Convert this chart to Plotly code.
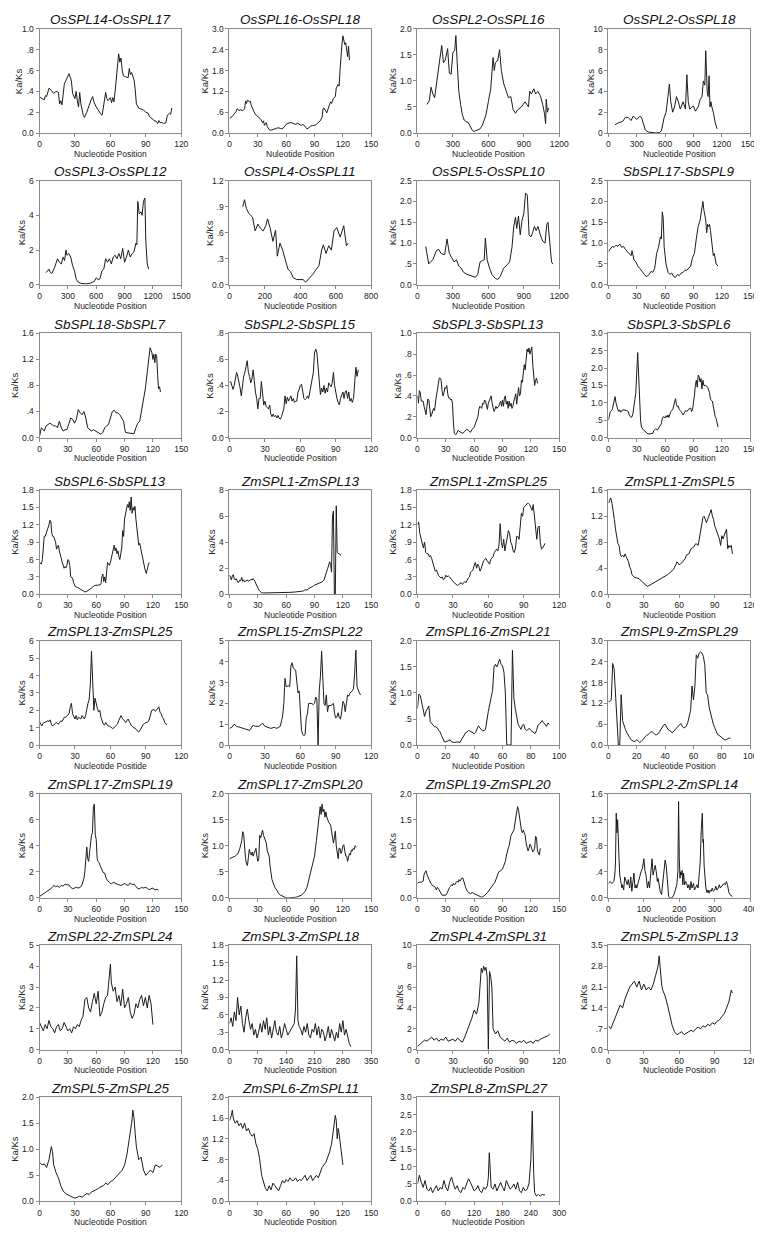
import plotly.graph_objects as go

# ---------------- data ----------------
x01 = [0,2,4,5,6,8,10,12,14,16,17,18,19,20,21,23,25,27,28,30,31,32,33,34,35,37,38,40,42,44,45,46,48,50,52,53,55,56,57,58,60,61,62,63,64,66,67,68,69,70,71,73,75,76,77,78,79,80,81,82,84,86,88,90,92,93,95,97,99,100,101,102,104,105,107,108,109,110,111,112]
y01 = [.35,.33,.32,.36,.35,.43,.41,.38,.40,.39,.28,.31,.27,.38,.47,.52,.57,.50,.38,.33,.40,.31,.25,.39,.28,.17,.15,.20,.27,.33,.35,.30,.25,.21,.18,.17,.30,.39,.33,.31,.34,.29,.34,.30,.40,.66,.76,.68,.72,.60,.55,.54,.53,.62,.56,.58,.54,.51,.42,.28,.24,.23,.22,.20,.19,.16,.14,.12,.11,.09,.12,.10,.10,.09,.10,.16,.18,.19,.18,.24]
xt01 = [0,30,60,90,120]
yt01 = [0,.2,.4,.6,.8,1.0]

x02 = [0,3,5,7,8,10,12,14,16,17,18,19,21,22,23,25,27,29,31,33,35,36,37,39,40,42,44,46,48,50,52,54,56,58,60,62,64,66,68,70,72,74,76,78,80,82,84,86,88,90,92,94,96,98,99,100,102,103,105,107,108,110,112,113,115,116,117,118,119,120,121,122,123,124,125,126,127]
y02 = [.42,.48,.55,.62,.70,.65,.67,.64,.70,.92,.85,.95,.90,.92,.80,.66,.55,.50,.45,.40,.30,.35,.22,.30,.18,.10,.08,.09,.12,.14,.15,.13,.12,.18,.25,.28,.30,.29,.27,.25,.28,.25,.22,.25,.17,.12,.15,.20,.22,.22,.25,.30,.35,.45,.70,.72,.60,.58,.75,.90,.85,1.00,1.05,1.30,1.40,1.35,1.80,2.30,2.55,2.80,2.70,2.55,2.60,2.45,2.20,2.50,2.10]
xt02 = [0,30,60,90,120,150]
yt02 = [0,.6,1.2,1.8,2.4,3.0]

x03 = [80,100,115,130,145,165,190,205,220,235,255,270,285,300,315,325,335,350,365,380,395,410,430,450,465,480,500,530,550,580,600,620,640,650,660,680,695,710,730,750,770,790,810,830,850,880,910,925,940,950,965,985,1000,1020,1040,1060,1075,1085,1090,1100,1110]
y03 = [.55,.62,.88,.75,.68,1.05,1.45,1.68,1.35,1.40,1.62,1.15,1.13,1.55,1.58,1.87,1.40,.80,.55,.35,.25,.22,.20,.12,.05,.03,.05,.08,.15,.35,.60,.85,1.45,1.20,1.35,1.40,1.60,1.20,.95,.82,.68,.70,.45,.38,.45,.50,.60,.55,.50,.80,.75,.85,.75,.80,.72,.55,.38,.18,.65,.40,.48]
xt03 = [0,300,600,900,1200]
yt03 = [0,.5,1.0,1.5,2.0]

x04 = [70,110,150,180,210,240,260,280,300,330,350,370,390,420,460,500,540,560,590,610,630,645,660,680,700,720,740,760,790,805,815,830,845,860,880,900,920,950,970,990,1005,1020,1030,1045,1055,1065,1075,1085,1095,1110,1130,1150]
y04 = [.8,1.0,1.1,1.5,1.5,1.2,1.6,1.5,1.3,1.6,1.5,1.0,.3,.1,.05,0,.05,.2,1.5,2.0,3.5,4.7,3.0,2.0,2.5,3.5,3.0,2.3,3.0,2.5,2.3,5.6,3.0,2.3,2.5,2.6,2.1,2.5,3.2,3.5,5.0,4.6,7.9,4.0,3.5,5.5,2.5,3.0,2.5,2.0,1.0,.4]
xt04 = [0,300,600,900,1200,1500]
yt04 = [0,2,4,6,8,10]

x05 = [70,100,115,130,160,190,210,230,250,265,280,290,310,330,350,370,390,410,440,470,500,540,580,600,620,640,660,680,700,720,740,760,780,800,820,840,860,880,900,920,940,960,980,1000,1020,1030,1040,1055,1075,1085,1100,1115,1125,1140,1155]
y05 = [.7,.9,.7,.65,1.0,1.5,1.3,1.2,1.6,1.4,2.0,1.7,1.8,1.6,1.1,.8,.3,.15,.08,.05,.05,.1,.2,.4,.3,.35,.8,.9,1.5,1.3,1.5,1.2,1.6,1.7,1.5,1.8,1.5,2.1,1.3,1.6,2.0,1.6,1.8,1.9,2.4,2.3,4.8,4.1,4.2,4.0,4.8,5.0,2.5,1.2,.9]
xt05 = [0,300,600,900,1200,1500]
yt05 = [0,2,4,6]

x06 = [75,85,95,110,130,145,160,175,190,205,215,230,245,260,270,285,300,315,330,345,360,380,400,415,430,450,470,490,505,520,530,545,560,575,590,605,625,645,660,670]
y06 = [.90,.98,.88,.82,.78,.62,.70,.65,.62,.68,.76,.65,.50,.63,.33,.48,.40,.28,.18,.15,.08,.06,.06,.06,.03,.07,.12,.18,.22,.40,.46,.36,.45,.40,.62,.66,.55,.68,.45,.48]
xt06 = [0,200,400,600,800]
yt06 = [0,.3,.6,.9,1.2]

x07 = [70,95,110,130,160,180,200,230,250,270,290,310,330,350,370,390,420,460,490,510,530,550,565,575,590,610,630,660,680,700,730,760,780,800,815,830,840,855,870,885,900,915,930,945,960,975,990,1005,1020,1040,1060,1080,1095,1105,1120,1135,1145]
y07 = [.92,.50,.55,.60,.82,.85,.75,.72,1.10,.75,.65,.55,.60,.45,.40,.30,.25,.20,.18,.25,.55,.58,.60,1.12,.60,.40,.25,.15,.13,.20,.40,.48,.55,.90,1.40,1.62,1.35,1.65,1.20,1.55,1.70,2.20,2.15,1.20,1.15,1.25,1.40,1.30,1.40,1.20,1.05,1.00,1.45,1.50,1.10,.55,.50]
xt07 = [0,300,600,900,1200]
yt07 = [0,.5,1.0,1.5,2.0,2.5]

x08 = [0,2,4,6,8,10,12,14,16,18,20,22,24,25,27,29,31,33,35,37,39,41,43,45,47,49,51,53,55,56,57,58,59,61,63,65,67,69,71,73,75,77,79,81,83,85,87,89,91,93,95,97,99,100,101,103,104,105,106,107,108,109,110,111,112,113,114,116]
y08 = [.80,.85,.92,.90,.95,.92,.98,.90,.92,.85,.80,.75,.70,.82,.60,.55,.45,.40,.35,.28,.22,.20,.25,.32,.30,.40,.75,.90,1.15,1.10,1.75,1.60,.90,.50,.30,.25,.28,.20,.18,.25,.22,.28,.30,.35,.35,.40,.45,.65,.75,1.10,1.40,1.55,1.80,2.00,1.80,1.55,1.25,1.45,1.40,1.45,1.30,1.05,.85,.70,.75,.55,.50,.45]
xt08 = [0,30,60,90,120,150]
yt08 = [0,.5,1.0,1.5,2.0,2.5]

x09 = [0,1,2,4,5,7,9,11,13,15,17,19,21,23,25,27,29,31,33,35,37,39,41,43,45,47,49,51,53,55,57,59,61,63,65,67,69,71,73,75,77,79,81,83,85,87,89,90,91,94,97,100,102,104,106,108,110,112,114,116,117,119,120,121,122,123,124,125,126,127,128]
y09 = [.02,.10,.15,.12,.10,.18,.20,.22,.20,.18,.18,.15,.25,.15,.10,.12,.12,.20,.30,.28,.22,.28,.43,.38,.35,.40,.30,.15,.12,.10,.12,.10,.08,.06,.05,.08,.15,.18,.20,.30,.40,.42,.38,.38,.35,.30,.25,.15,.08,.07,.06,.06,.15,.22,.25,.40,.55,.75,1.00,1.25,1.38,1.30,1.20,1.28,1.15,1.28,1.25,.95,.75,.78,.70]
xt09 = [0,30,60,90,120,150]
yt09 = [0,.4,.8,1.2,1.6]

x10 = list(range(0, 110))
y10 = [.42,.43,.40,.37,.40,.45,.50,.47,.43,.38,.32,.40,.47,.50,.56,.59,.50,.47,.42,.45,.52,.42,.35,.30,.22,.30,.30,.43,.30,.25,.28,.24,.23,.22,.25,.18,.16,.18,.16,.17,.15,.17,.15,.14,.16,.20,.22,.32,.26,.31,.28,.30,.32,.28,.30,.27,.28,.28,.35,.37,.40,.41,.35,.30,.29,.30,.32,.30,.35,.40,.45,.50,.65,.68,.65,.55,.45,.33,.38,.35,.40,.34,.38,.35,.42,.40,.39,.42,.50,.40,.33,.30,.27,.25,.30,.33,.35,.30,.35,.36,.30,.35,.28,.30,.27,.30,.40,.54,.47,.52]
xt10 = [0,30,60,90,120]
yt10 = [0,.2,.4,.6,.8]

x11 = [0,1,2,3,4,6,7,8,9,10,11,12,13,14,15,16,17,18,19,20,21,22,23,24,25,26,27,28,29,30,31,32,33,34,35,36,37,38,39,40,41,42,43,44,46,48,50,52,54,56,58,60,62,64,65,66,68,69,70,71,72,73,74,75,76,77,78,79,80,81,82,83,84,86,88,89,90,91,92,93,94,95,96,97,98,99,100,101,102,103,104,105,106,107,108,109,110,111,112,113,114,115,116,117,118,119,120,121,122,123,124,125,126,127]
y11 = [.40,.33,.45,.43,.35,.35,.30,.25,.22,.30,.37,.36,.25,.20,.22,.26,.28,.26,.35,.40,.45,.52,.57,.57,.55,.45,.40,.43,.48,.47,.50,.42,.38,.38,.36,.37,.33,.15,.04,.03,.03,.05,.07,.06,.05,.04,.06,.08,.07,.05,.08,.10,.15,.20,.27,.30,.28,.33,.32,.36,.35,.30,.27,.33,.35,.38,.40,.33,.28,.25,.27,.30,.28,.30,.35,.30,.36,.30,.38,.40,.32,.35,.28,.35,.30,.33,.28,.30,.35,.38,.42,.32,.45,.48,.40,.42,.55,.53,.62,.70,.65,.78,.85,.82,.86,.80,.83,.87,.70,.55,.50,.55,.57,.52]
xt11 = [0,30,60,90,120,150]
yt11 = [0,.2,.4,.6,.8,1.0]

x12 = [0,1,2,4,5,6,7,8,9,10,11,12,13,14,15,17,19,21,22,24,25,26,27,28,29,30,31,32,33,34,35,37,39,41,43,45,47,48,50,52,54,56,57,58,60,61,62,63,64,65,66,68,69,70,71,72,73,74,75,77,79,80,82,83,85,87,88,89,90,91,92,93,94,95,96,97,98,99,100,101,103,105,107,108,110,111,112,113,114,115,116]
y12 = [.50,.60,.75,.80,.95,1.10,1.18,1.00,.85,.80,.75,.80,.73,.75,.80,.80,.78,.75,.65,.58,.60,.70,.85,1.10,1.30,2.00,2.45,1.80,1.00,.50,.30,.22,.18,.12,.10,.10,.12,.20,.25,.22,.30,.40,.55,.60,.57,.63,.58,.65,.58,.65,.75,.80,.90,1.00,1.12,.95,.88,.90,.80,.75,.65,.70,.78,.75,.82,.85,.75,.80,.95,1.20,1.50,1.65,1.45,1.80,1.75,1.60,1.70,1.40,1.65,1.50,1.50,1.45,1.30,1.10,1.05,.85,.70,.60,.55,.40,.30]
xt12 = [0,30,60,90,120,150]
yt12 = [0,.5,1.0,1.5,2.0,2.5,3.0]

x13 = [0,2,3,4,5,6,7,8,9,10,11,12,13,14,15,16,17,18,19,20,21,22,23,24,25,26,27,28,29,30,31,32,33,34,35,36,37,38,40,42,44,46,48,50,52,54,56,58,60,62,64,65,66,67,68,69,70,71,72,73,74,75,76,77,78,79,80,81,82,83,84,85,86,87,88,89,90,91,92,93,94,95,96,97,98,99,100,101,102,103,104,105,106,107,108,109,110,111,112,113,114,115,116]
y13 = [.55,.52,.60,.80,1.00,1.00,1.05,1.08,1.15,1.20,1.28,1.25,1.05,1.00,1.00,.95,.90,.78,.82,.85,.75,.70,.62,.55,.48,.45,.48,.46,.50,.60,.58,.50,.30,.28,.28,.20,.15,.13,.12,.10,.08,.05,.04,.05,.07,.10,.12,.15,.16,.16,.16,.18,.30,.35,.22,.30,.20,.40,.55,.52,.50,.55,.62,.70,.80,.85,.75,.80,.70,.75,.65,.60,.70,.80,1.10,1.00,1.30,1.40,1.50,1.55,1.50,1.60,1.45,1.68,1.40,1.50,1.45,1.52,1.30,1.10,.95,.85,.88,.80,.70,.60,.50,.45,.40,.36,.45,.50,.55]
xt13 = [0,30,60,90,120,150]
yt13 = [0,.3,.6,.9,1.2,1.5,1.8]

x14 = [0,1,2,3,4,5,6,7,8,9,10,11,12,13,14,15,16,17,18,19,20,21,22,23,24,25,26,27,28,29,30,31,32,33,34,36,40,45,50,55,60,65,70,75,78,80,82,84,86,88,90,92,94,96,98,100,102,104,106,107,108,109,110,111,112,113,114,116,118]
y14 = [1.5,1.2,1.1,1.4,1.5,1.2,1.1,1.2,1.0,.9,.95,1.1,1.05,1.3,1.0,1.1,.95,1.0,1.0,1.1,1.0,1.05,1.1,1.15,1.1,1.2,1.1,1.0,.8,.6,.45,.35,.25,.18,.12,.1,.1,.1,.12,.15,.12,.15,.18,.2,.25,.35,.32,.45,.5,.6,.7,.75,.8,.85,.95,1.1,1.5,2.0,2.5,2.3,1.7,6.0,6.4,0.0,0.0,6.8,3.2,3.1,3.0]
xt14 = [0,30,60,90,120,150]
yt14 = [0,2,4,6,8]

x15 = list(range(0, 109))
y15 = [1.20,1.25,1.05,.95,.85,.80,.90,.72,.70,.70,.65,.67,.62,.55,.45,.40,.42,.35,.32,.30,.28,.30,.25,.27,.33,.30,.32,.30,.28,.25,.22,.20,.18,.16,.15,.17,.18,.20,.17,.20,.22,.20,.25,.28,.30,.38,.40,.42,.50,.55,.45,.52,.48,.40,.45,.52,.58,.60,.62,.58,.55,.52,.60,.62,.65,.72,.75,.78,.75,.85,1.22,.90,.80,.95,.75,.85,.95,1.10,1.05,.90,.85,.75,.72,.80,1.00,1.00,.95,1.15,1.40,1.35,1.50,1.52,1.55,1.57,1.57,1.55,1.50,1.45,1.55,1.35,1.25,.95,1.15,1.18,.90,.78,.80,.85,.88]
xt15 = [0,30,60,90,120]
yt15 = [0,.3,.6,.9,1.2,1.5,1.8]

x16 = [0,1,2,3,4,5,6,7,8,9,10,11,12,13,14,15,16,17,18,19,20,22,24,26,28,30,33,36,38,40,42,45,48,50,52,55,57,58,59,60,61,63,65,66,68,70,72,74,76,77,78,79,80,81,82,83,84,85,86,87,88,89,90,91,92,93,94,95,96,97,98,99,100,101,102,103,104,105]
y16 = [1.40,1.45,1.48,1.40,1.30,1.15,1.00,.85,.78,.75,.62,.58,.60,.57,.62,.58,.55,.50,.42,.38,.30,.26,.25,.24,.20,.17,.12,.15,.17,.20,.22,.25,.28,.30,.33,.38,.45,.50,.48,.45,.47,.50,.55,.60,.62,.70,.72,.78,.75,.85,1.00,1.10,1.18,1.20,1.15,1.10,1.15,1.20,1.25,1.30,1.20,1.15,1.05,1.00,.95,.90,.85,.75,.90,.85,.90,.95,1.00,.70,.75,.72,.75,.62]
xt16 = [0,30,60,90,120]
yt16 = [0,.4,.8,1.2,1.6]

x17 = list(range(0, 94)) + [95,97,98,99,101,102,103,104,105,106,107,108]
y17 = [1.35,1.2,1.1,1.25,1.3,1.3,1.35,1.4,1.35,1.45,1.2,1.1,1.15,1.2,1.3,1.25,1.2,1.3,1.4,1.35,1.5,1.6,1.6,1.65,1.7,1.8,2.2,2.4,1.8,1.6,1.5,1.7,1.45,1.6,1.55,1.5,1.7,1.6,1.5,1.7,2.2,2.4,2.6,3.5,5.4,3.0,2.0,2.7,2.3,2.1,1.9,2.0,1.6,1.4,1.2,1.15,1.3,1.2,1.1,1.1,1.05,1.0,.95,1.0,1.05,1.1,1.2,1.4,1.6,1.7,1.55,1.45,1.35,1.3,1.4,1.5,1.35,1.2,1.1,1.05,1.0,1.0,.9,.8,.75,.85,1.0,1.1,1.2,1.25,1.3,1.35,1.35,1.5,2.0,2.05,1.95,2.0,2.2,1.9,1.8,1.6,1.5,1.3,1.2,1.2]
xt17 = [0,30,60,90,120]
yt17 = [0,1,2,3,4,5,6]

x18 = [0,2,4,6,9,12,15,17,20,22,25,28,30,33,35,38,40,43,45,46,47,48,50,51,52,53,54,56,57,58,59,60,61,62,63,64,65,66,67,69,71,72,73,74,75,76,77,78,79,80,81,82,83,84,86,88,89,90,91,92,93,94,95,96,97,98,99,100,101,102,104,105,106,107,108,109,110,111]
y18 = [.8,.85,1.0,.9,.85,.8,.75,.7,.95,.9,.9,1.05,.9,.85,.8,.85,.8,.9,1.4,2.0,3.2,2.8,2.85,2.8,3.8,3.95,3.7,3.6,3.0,2.5,2.6,1.8,.7,.5,.45,.5,1.3,1.5,2.0,2.0,1.95,2.0,2.3,2.2,0.0,2.6,3.3,4.5,3.0,2.0,1.9,2.4,1.6,1.9,1.9,2.0,1.5,1.3,1.35,1.55,1.3,1.25,1.6,2.1,2.0,1.6,2.0,2.4,2.35,2.5,2.6,2.7,3.5,4.55,2.8,2.6,2.5,2.4]
xt18 = [0,30,60,90,120]
yt18 = [0,1,2,3,4,5]

x19 = [0,1,2,3,4,5,6,7,8,9,10,11,12,13,14,15,16,17,18,19,20,21,22,23,24,26,28,30,31,32,33,34,35,36,37,38,39,40,41,42,43,44,45,46,47,48,50,51,52,53,54,55,56,57,58,59,60,61,62,63,66,67,68,69,70,71,72,73,74,75,76,77,78,79,80,81,82,83,84,85,86,87,88,89,90,91,92,93]
y19 = [.70,.98,.95,.80,.65,.55,.65,.70,.75,.45,.42,.38,.35,.35,.33,.28,.25,.18,.10,.06,.06,.07,.08,.10,.06,.05,.06,.05,.10,.15,.22,.24,.25,.28,.27,.25,.23,.22,.24,.30,.37,.33,.30,.27,.28,.30,.65,.80,.95,1.05,1.50,1.55,1.50,1.60,1.65,1.55,1.52,1.40,1.00,0.0,0.0,1.82,.90,.70,.50,.40,.35,.30,.38,.40,.30,.28,.30,.32,.28,.26,.25,.22,.28,.38,.40,.45,.47,.43,.38,.36,.42,.40]
xt19 = [0,20,40,60,80,100]
yt19 = [0,.5,1.0,1.5,2.0]

x20 = list(range(0, 87))
y20 = [1.25,1.25,1.30,2.35,2.20,1.40,.80,0.0,0.0,1.45,.70,.55,.45,.35,.30,.22,.15,.12,.10,.12,.15,.12,.08,.10,.15,.20,.25,.28,.30,.35,.38,.38,.35,.30,.30,.32,.38,.45,.55,.58,.60,.52,.45,.42,.40,.35,.40,.45,.50,.55,.58,.62,.55,.50,.50,.55,.65,.80,1.00,1.70,1.30,1.70,2.60,2.50,2.65,2.68,2.65,2.55,2.30,1.50,1.45,1.10,.90,.75,.60,.50,.40,.30,.28,.25,.20,.18,.15,.15,.18,.20,.20]
xt20 = [0,20,40,60,80,100]
yt20 = [0,.6,1.2,1.8,2.4,3.0]

x21 = [0,2,4,6,8,10,12,14,15,17,19,21,23,25,27,29,31,33,35,37,39,41,43,45,47] + list(range(48, 73)) + list(range(74, 127, 2))
y21 = [.1,.2,.3,.35,.5,.6,.7,.85,.95,.85,.9,.8,.95,.9,1.05,1.0,1.0,.8,.7,.75,.8,.75,.8,1.0,1.5,2.0,3.0,3.9,3.0,2.8,3.5,4.5,4.8,5.0,7.0,7.2,4.8,4.5,3.0,2.8,2.7,2.5,2.3,2.2,2.0,1.9,1.9,1.6,1.4,1.3,1.2,1.05,1.2,1.1,1.05,1.0,.95,1.0,1.1,1.0,.95,1.15,1.0,1.05,.9,.7,.7,.8,.75,.8,.75,.6,.7,.75,.6,.65,.6]
xt21 = [0,30,60,90,120,150]
yt21 = [0,2,4,6,8]

x22 = [0,3,6,9,11,13,14,15,16,17] + list(range(18, 47)) + [48,50,52,54,56,58,60,64,68,70,72,74,76,78,80,82,84,86,88,90,92,94,95,96,97,98,99,100,101,102,103,105,107] + list(range(108, 135))
y22 = [.75,.78,.80,.85,.95,1.10,1.27,1.22,.90,.75,.65,.62,.78,.93,.85,.82,.88,.80,.85,.90,.95,.80,.70,.75,1.20,1.15,1.25,1.30,1.20,1.15,1.10,1.05,.90,.85,.80,.60,.45,.35,.30,.20,.15,.08,.05,.03,.01,0,0,0,.01,.02,.03,.05,.08,.12,.20,.35,.50,.65,.80,1.10,1.45,1.70,1.75,1.60,1.80,1.65,1.70,1.55,1.65,1.55,1.45,1.40,1.30,1.20,1.05,1.15,1.28,1.00,.90,.75,.95,.95,.85,.90,1.00,1.02,.90,.80,.80,.70,.78,.85,.82,.92,.90,.95,.93,1.00,.97]
xt22 = [0,30,60,90,120,150]
yt22 = [0,.5,1.0,1.5,2.0]

x23 = [0,2,4,6,7,8,9,10,11,12,13,14,15,17,19,20,21,22,23,24,25,26,28,30] + list(range(31, 55)) + list(range(56, 85, 2)) + [85,86,88] + list(range(90, 100)) + list(range(102, 131))
y23 = [.28,.30,.30,.32,.45,.50,.52,.45,.40,.35,.30,.28,.25,.22,.20,.15,.20,.18,.15,.10,.08,.05,.05,.05,.08,.12,.18,.20,.22,.25,.23,.28,.25,.26,.30,.32,.30,.35,.32,.35,.38,.38,.30,.28,.20,.15,.12,.10,.08,.10,.08,.06,.05,.02,.01,.03,.06,.10,.15,.20,.25,.30,.40,.48,.50,.52,.55,.60,.65,.70,.80,.90,.95,1.00,1.10,1.20,1.30,1.45,1.55,1.65,1.75,1.68,1.55,1.40,1.30,1.25,1.30,1.25,1.20,1.05,.95,.90,.95,1.03,1.00,.90,.88,.90,.95,1.18,1.15,.90,.85,.82,.95]
xt23 = [0,30,60,90,120,150]
yt23 = [0,.5,1.0,1.5,2.0]

x24 = [0,5,10,15,18,20,22,24,26,28,30,32,35,38,40,43,46,50,53,56,60,63,66,70,72,75,78,80,84,88,92,96,100,103,106,110,113,116,120,123,126,129,132,135,138,140,143,146,150,153,156,160,163,166,168,170,173,176,180,185,190,193,196,198,200,202,204,206,208,210,212,215,218,221,224,227,230,233,236,240,243,246,250,253,256,259,262,265,267,268,270,272,275,278,281,284,287,290,293,296,300,303,306,310,313,316,320,323,326,330,333,336,338,340,343,346,350]
y24 = [.22,.25,.22,.25,.35,.55,1.30,1.00,1.20,1.00,.60,.35,.22,.15,.20,.12,.32,.25,.20,.28,.15,.32,.10,.28,.38,.15,.20,.15,.25,.30,.40,.45,.60,.42,.35,.15,.25,.15,.35,.60,.35,.45,.50,.40,.25,.30,.15,.10,.05,.20,.40,.58,.50,.30,.10,.02,0,0,0,.05,.15,.20,.40,1.48,.60,.30,.40,.35,.42,.20,.38,.20,.25,.22,.15,.20,.12,.25,.15,.22,.12,.15,.20,.15,.30,.55,1.05,1.30,.85,.90,.50,.35,.15,.08,.12,.07,.12,.10,.15,.10,.12,.18,.12,.15,.20,.15,.18,.20,.22,.20,.25,.20,.10,.08,.05,.03,.02]
xt24 = [0,100,200,300,400]
yt24 = [0,.4,.8,1.2,1.6]

x25 = list(range(0, 75, 2)) + [75,76] + list(range(78, 121, 2))
y25 = [1.3,1.1,.9,1.2,1.0,1.4,1.1,1.0,.8,1.1,1.2,.9,1.0,1.3,1.1,.9,1.0,.8,1.1,1.0,1.2,1.1,1.4,1.6,2.4,2.5,2.0,1.8,2.3,2.7,2.2,2.8,1.6,1.8,2.2,2.5,2.6,3.6,4.1,3.2,2.8,3.0,2.3,2.6,2.1,2.9,2.0,2.2,2.5,1.8,1.5,1.7,2.2,2.0,2.4,2.6,2.1,2.5,2.0,2.6,2.2,1.2]
xt25 = [0,30,60,90,120,150]
yt25 = [0,1,2,3,4,5]

x26 = list(range(0, 157, 4)) + [160,163,166,169,172] + list(range(176, 301, 4))
y26 = [.45,.55,.40,.65,.50,.90,.60,.75,.45,.30,.55,.70,.50,.35,.45,.25,.35,.20,.30,.45,.30,.50,.35,.55,.25,.40,.20,.35,.50,.30,.25,.40,.20,.30,.45,.35,.25,.30,.35,.40,.45,.70,1.62,.50,.40,.35,.25,.40,.30,.45,.25,.20,.35,.30,.45,.25,.40,.20,.35,.30,.15,.25,.40,.20,.35,.25,.15,.30,.20,.45,.30,.50,.25,.35,.20,.10,.05]
xt26 = [0,70,140,210,280,350]
yt26 = [0,.3,.6,.9,1.2,1.5,1.8]

x27 = list(range(0, 53, 2)) + list(range(53, 65)) + list(range(66, 113, 2))
y27 = [.3,.5,.7,.9,.8,1.0,1.2,.9,1.1,.8,1.0,.9,1.2,.8,.9,1.0,.8,1.1,.9,.7,1.2,1.8,2.5,3.0,3.8,3.4,4.5,6.5,7.8,7.4,8.0,7.6,7.9,7.0,0.0,7.5,7.0,6.0,2.0,1.5,1.8,1.2,1.0,.8,1.1,.7,.9,.8,.6,.8,.7,.9,.6,.7,.8,.6,.9,.8,1.0,1.1,1.2,1.3,1.5]
xt27 = [0,30,60,90,120]
yt27 = [0,2,4,6,8,10]

x28 = list(range(0, 43, 2)) + [43,44,45,46] + list(range(48, 103, 2)) + [103,104,105]
y28 = [.8,.7,.9,1.1,1.3,1.5,1.4,1.7,1.9,2.1,2.2,2.3,2.1,2.3,2.0,2.2,2.0,2.1,2.0,2.2,2.5,2.8,3.15,2.6,2.2,2.0,1.8,1.5,1.1,.8,.6,.5,.55,.6,.5,.55,.6,.65,.6,.7,.75,.7,.8,.75,.85,.8,.9,.85,.95,1.0,1.1,1.2,1.4,1.6,1.8,2.0,1.9]
xt28 = [0,30,60,90,120]
yt28 = [0,.7,1.4,2.1,2.8,3.5]

x29 = [0,2,4,6,8,10,11] + list(range(12, 79, 2)) + [79,80,81] + list(range(82, 105, 2))
y29 = [.75,.70,.72,.65,.80,1.05,.95,.70,.55,.45,.30,.20,.15,.12,.10,.08,.06,.08,.10,.08,.12,.15,.13,.18,.20,.22,.25,.28,.30,.35,.32,.38,.40,.45,.50,.55,.60,.70,.90,1.20,1.50,1.75,1.60,1.30,1.05,.80,.85,.60,.50,.55,.60,.55,.70,.68,.65,.70]
xt29 = [0,30,60,90,120]
yt29 = [0,.5,1.0,1.5,2.0]

x30 = [0,2,3,4] + list(range(6, 111, 2)) + [112,113,114,115,116,118,120]
y30 = [1.55,1.65,1.75,1.60,1.50,1.55,1.45,1.50,1.40,1.50,1.35,1.40,1.30,1.25,1.30,1.10,1.00,.80,.50,.35,.25,.20,.30,.22,.35,.30,.25,.20,.30,.40,.35,.42,.38,.45,.40,.40,.45,.38,.42,.40,.45,.50,.40,.45,.50,.40,.45,.50,.45,.55,.65,.70,.75,.85,.95,1.10,1.40,1.65,1.55,1.20,1.40,1.30,1.00,.70]
xt30 = [0,30,60,90,120,150]
yt30 = [0,.4,.8,1.2,1.6,2.0]

x31 = list(range(0, 149, 4)) + [150,152,154,156] + list(range(160, 237, 4)) + [240,243,246,248] + list(range(252, 269, 4)) + [270]
y31 = [.50,.75,.55,.40,.60,.35,.30,.40,.25,.35,.45,.30,.40,.35,.60,.40,.30,.55,.70,.50,.35,.45,.30,.25,.40,.35,.50,.65,.55,.40,.30,.35,.45,.30,.25,.40,.35,.45,.70,1.40,.60,.40,.35,.50,.30,.45,.55,.40,.30,.60,.45,.35,.40,.50,.35,.55,.30,.25,.40,.30,.35,.50,1.20,2.60,.80,.25,.15,.20,.15,.20,.18,.20]
xt31 = [0,60,120,180,240,300]
yt31 = [0,.5,1.0,1.5,2.0,2.5,3.0]

NP = "Nucleotide Position"
panels = [
    ("OsSPL14-OsSPL17", NP, x01, y01, xt01, yt01),
    ("OsSPL16-OsSPL18", "Nuleotide Position", x02, y02, xt02, yt02),
    ("OsSPL2-OsSPL16", NP, x03, y03, xt03, yt03),
    ("OsSPL2-OsSPL18", NP, x04, y04, xt04, yt04),
    ("OsSPL3-OsSPL12", NP, x05, y05, xt05, yt05),
    ("OsSPL4-OsSPL11", NP, x06, y06, xt06, yt06),
    ("OsSPL5-OsSPL10", NP, x07, y07, xt07, yt07),
    ("SbSPL17-SbSPL9", NP, x08, y08, xt08, yt08),
    ("SbSPL18-SbSPL7", NP, x09, y09, xt09, yt09),
    ("SbSPL2-SbSPL15", NP, x10, y10, xt10, yt10),
    ("SbSPL3-SbSPL13", NP, x11, y11, xt11, yt11),
    ("SbSPL3-SbSPL6", NP, x12, y12, xt12, yt12),
    ("SbSPL6-SbSPL13", NP, x13, y13, xt13, yt13),
    ("ZmSPL1-ZmSPL13", NP, x14, y14, xt14, yt14),
    ("ZmSPL1-ZmSPL25", NP, x15, y15, xt15, yt15),
    ("ZmSPL1-ZmSPL5", NP, x16, y16, xt16, yt16),
    ("ZmSPL13-ZmSPL25", "Nucleotide Positide", x17, y17, xt17, yt17),
    ("ZmSPL15-ZmSPL22", NP, x18, y18, xt18, yt18),
    ("ZmSPL16-ZmSPL21", NP, x19, y19, xt19, yt19),
    ("ZmSPL9-ZmSPL29", NP, x20, y20, xt20, yt20),
    ("ZmSPL17-ZmSPL19", NP, x21, y21, xt21, yt21),
    ("ZmSPL17-ZmSPL20", NP, x22, y22, xt22, yt22),
    ("ZmSPL19-ZmSPL20", NP, x23, y23, xt23, yt23),
    ("ZmSPL2-ZmSPL14", NP, x24, y24, xt24, yt24),
    ("ZmSPL22-ZmSPL24", NP, x25, y25, xt25, yt25),
    ("ZmSPL3-ZmSPL18", NP, x26, y26, xt26, yt26),
    ("ZmSPL4-ZmSPL31", NP, x27, y27, xt27, yt27),
    ("ZmSPL5-ZmSPL13", NP, x28, y28, xt28, yt28),
    ("ZmSPL5-ZmSPL25", NP, x29, y29, xt29, yt29),
    ("ZmSPL6-ZmSPL11", NP, x30, y30, xt30, yt30),
    ("ZmSPL8-ZmSPL27", NP, x31, y31, xt31, yt31),
]

# ---------------- layout ----------------
W, H = 762, 1239
COL_LEFT = [30, 223, 414, 608]
ROW_TOP = [16, 169, 323, 481, 633, 787, 940, 1093]
PW, PH = 144, 105
FONT = "Liberation Sans, Arial, Helvetica, sans-serif"
FRAME = "#8a8a8a"
TICK_FS = 8.5


def fmt(v, all_int):
    if all_int:
        return str(int(round(v)))
    s = f"{v:.1f}"
    if s.startswith("0.") and s != "0.0":
        s = s[1:]
    return s


def text_w(s, fs):
    # approximate Arial advance widths
    return sum((0.278 if ch == "." else 0.556) for ch in s) * fs


fig = go.Figure()
lay = {}
ann = []
for i, (title, xlab, xs, ys, xt, yt) in enumerate(panels):
    if len(xs) != len(ys):
        raise ValueError(f"{title}: {len(xs)} x vs {len(ys)} y")
    r, c = divmod(i, 4)
    L, T = COL_LEFT[c], ROW_TOP[r]
    sfx = "" if i == 0 else str(i + 1)
    fig.add_trace(go.Scatter(x=xs, y=ys, xaxis="x" + sfx, yaxis="y" + sfx,
                             mode="lines", line=dict(color="#1c1c1c", width=1),
                             hoverinfo="skip", showlegend=False))
    common = dict(showline=True, mirror=True, linecolor=FRAME, linewidth=1,
                  ticks="outside", ticklen=3, tickcolor=FRAME, tickwidth=1,
                  showgrid=False, zeroline=False, fixedrange=True,
                  tickfont=dict(family=FONT, size=TICK_FS, color="#222"))
    yint = all(abs(v - round(v)) < 1e-9 for v in yt)
    ylabels = [fmt(v, yint) for v in yt]
    lay["xaxis" + sfx] = dict(common, domain=[L / W, (L + PW) / W], anchor="y" + sfx,
                              range=[xt[0], xt[-1]], tickmode="array", tickvals=xt,
                              ticktext=[str(v) for v in xt])
    lay["yaxis" + sfx] = dict(common, domain=[1 - (T + PH) / H, 1 - T / H], anchor="x" + sfx,
                              range=[yt[0], yt[-1]], tickmode="array", tickvals=yt,
                              ticktext=ylabels)
    # place Ka/Ks just left of the inner (middle) tick labels
    inner = ylabels[1:-1] if len(ylabels) > 2 else ylabels
    off = 7 + max(text_w(s, TICK_FS) for s in inner) + 6.5
    off = max(off, 18)
    ann.append(dict(text="<i>" + title + "</i>", x=(L + PW / 2) / W, y=1 - (T - 9) / H,
                    xref="paper", yref="paper", showarrow=False, xanchor="center", yanchor="middle",
                    font=dict(family=FONT, size=13.5, color="#111")))
    ann.append(dict(text=xlab, x=(L + PW / 2) / W, y=1 - (T + PH + 21) / H,
                    xref="paper", yref="paper", showarrow=False, xanchor="center", yanchor="middle",
                    font=dict(family=FONT, size=8.5, color="#222")))
    ann.append(dict(text="Ka/Ks", x=(L - off) / W, y=1 - (T + PH / 2) / H, textangle=-90,
                    xref="paper", yref="paper", showarrow=False, xanchor="center", yanchor="middle",
                    font=dict(family=FONT, size=9.5, color="#222")))

fig.update_layout(width=W, height=H, margin=dict(l=0, r=0, t=0, b=0),
                  paper_bgcolor="white", plot_bgcolor="white",
                  annotations=ann, showlegend=False, **lay)
fig.write_html("out.html")
